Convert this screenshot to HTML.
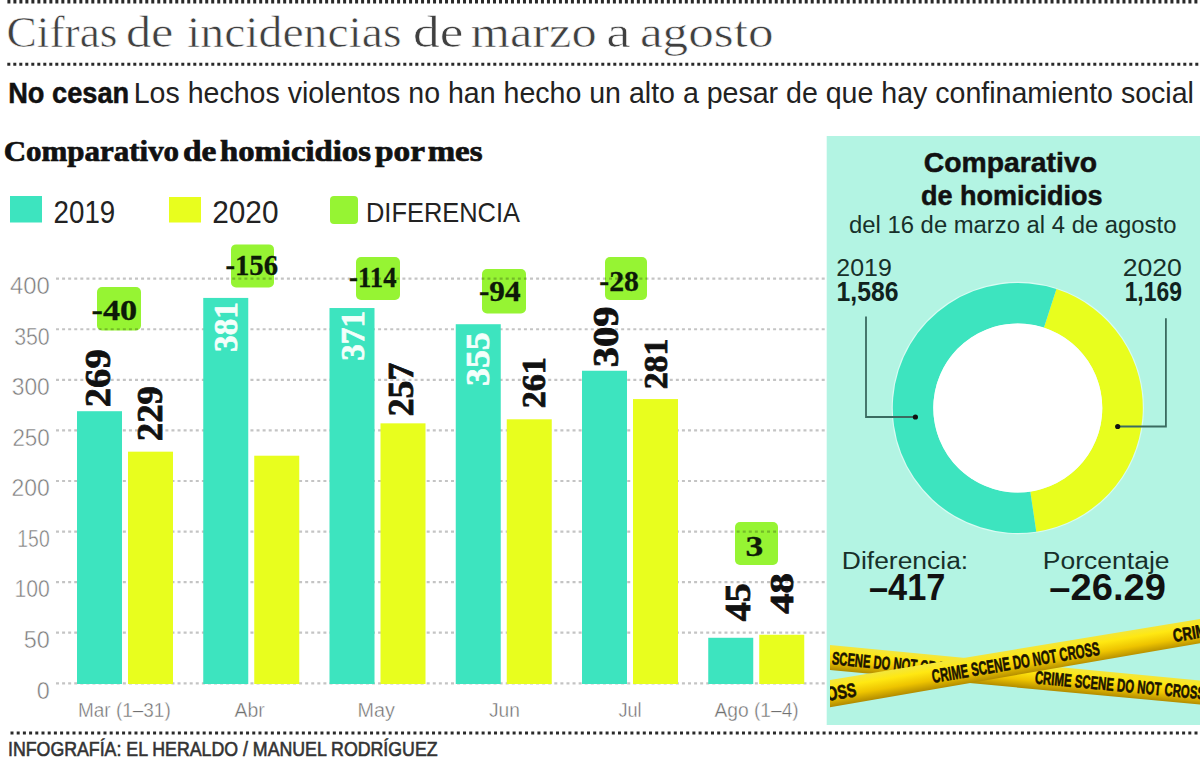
<!DOCTYPE html><html><head><meta charset="utf-8"><style>html,body{margin:0;padding:0;background:#fff;width:1200px;height:764px;overflow:hidden}svg{display:block}</style></head><body><svg width="1200" height="764" viewBox="0 0 1200 764"><defs><linearGradient id="tapeg" x1="0" y1="0" x2="0" y2="1"><stop offset="0" stop-color="#f2e640"/><stop offset="0.3" stop-color="#ffe812"/><stop offset="0.65" stop-color="#eec400"/><stop offset="1" stop-color="#b08a00"/></linearGradient><clipPath id="pclip"><rect x="830" y="136" width="370" height="589"/></clipPath></defs><rect width="1200" height="764" fill="#fff"/><line x1="7.4" y1="1.8" x2="1200" y2="1.8" stroke="#2a2a2a" stroke-width="3.6" stroke-dasharray="3 2.995" stroke-dashoffset="0"/>
<line x1="7.3" y1="64.2" x2="1200" y2="64.2" stroke="#2a2a2a" stroke-width="3" stroke-dasharray="3 3" stroke-dashoffset="0"/>
<text x="6.58" y="47.00" font-family="Liberation Serif" font-weight="normal" font-size="44.26" fill="#404040" textLength="110.96" lengthAdjust="spacingAndGlyphs" stroke="#fff" stroke-width="0.6">Cifras</text>
<text x="125.94" y="47.00" font-family="Liberation Serif" font-weight="normal" font-size="44.26" fill="#404040" textLength="47.46" lengthAdjust="spacingAndGlyphs" stroke="#fff" stroke-width="0.6">de</text>
<text x="187.05" y="47.00" font-family="Liberation Serif" font-weight="normal" font-size="44.26" fill="#404040" textLength="214.52" lengthAdjust="spacingAndGlyphs" stroke="#fff" stroke-width="0.6">incidencias</text>
<text x="413.13" y="47.00" font-family="Liberation Serif" font-weight="normal" font-size="44.26" fill="#404040" textLength="50.37" lengthAdjust="spacingAndGlyphs" stroke="#fff" stroke-width="0.6">de</text>
<text x="470.69" y="47.00" font-family="Liberation Serif" font-weight="normal" font-size="44.26" fill="#404040" textLength="126.00" lengthAdjust="spacingAndGlyphs" stroke="#fff" stroke-width="0.6">marzo</text>
<text x="606.38" y="47.00" font-family="Liberation Serif" font-weight="normal" font-size="44.26" fill="#404040" textLength="24.38" lengthAdjust="spacingAndGlyphs" stroke="#fff" stroke-width="0.6">a</text>
<text x="639.91" y="47.00" font-family="Liberation Serif" font-weight="normal" font-size="44.26" fill="#404040" textLength="133.62" lengthAdjust="spacingAndGlyphs" stroke="#fff" stroke-width="0.6">agosto</text>
<text x="8.23" y="103.00" font-family="Liberation Sans" font-weight="bold" font-size="29.71" fill="#111" textLength="120.94" lengthAdjust="spacingAndGlyphs" stroke="#111" stroke-width="0.5">No cesan</text>
<text x="133.72" y="103.30" font-family="Liberation Sans" font-weight="normal" font-size="29.79" fill="#222" textLength="1060.21" lengthAdjust="spacingAndGlyphs" >Los hechos violentos no han hecho un alto a pesar de que hay confinamiento social</text>
<text x="3.65" y="161.00" font-family="Liberation Serif" font-weight="bold" font-size="29.00" fill="#111" textLength="175.47" lengthAdjust="spacingAndGlyphs" stroke="#111" stroke-width="0.7">Comparativo</text>
<text x="183.07" y="161.00" font-family="Liberation Serif" font-weight="bold" font-size="29.00" fill="#111" textLength="33.37" lengthAdjust="spacingAndGlyphs" stroke="#111" stroke-width="0.7">de</text>
<text x="219.98" y="161.00" font-family="Liberation Serif" font-weight="bold" font-size="29.00" fill="#111" textLength="150.93" lengthAdjust="spacingAndGlyphs" stroke="#111" stroke-width="0.7">homicidios</text>
<text x="375.07" y="161.00" font-family="Liberation Serif" font-weight="bold" font-size="29.00" fill="#111" textLength="50.00" lengthAdjust="spacingAndGlyphs" stroke="#111" stroke-width="0.7">por</text>
<text x="427.68" y="161.00" font-family="Liberation Serif" font-weight="bold" font-size="29.00" fill="#111" textLength="54.88" lengthAdjust="spacingAndGlyphs" stroke="#111" stroke-width="0.7">mes</text>
<rect x="10" y="196" width="32" height="26.5" fill="#3de4bf"/>
<rect x="169" y="197" width="32" height="25.5" fill="#e8fe1e"/>
<rect x="330" y="196" width="28" height="28" rx="4" fill="#96f433"/>
<text x="53.62" y="222.50" font-family="Liberation Sans" font-weight="normal" font-size="30.71" fill="#222" textLength="61.62" lengthAdjust="spacingAndGlyphs" >2019</text>
<text x="212.21" y="222.50" font-family="Liberation Sans" font-weight="normal" font-size="30.71" fill="#222" textLength="66.32" lengthAdjust="spacingAndGlyphs" >2020</text>
<text x="365.96" y="222.00" font-family="Liberation Sans" font-weight="normal" font-size="27.86" fill="#222" textLength="154.07" lengthAdjust="spacingAndGlyphs" >DIFERENCIA</text>
<rect x="826.7" y="136" width="373.3" height="589" fill="#b3f4e3"/>
<rect x="97" y="287" width="44" height="43.5" rx="5" fill="#96f433"/>
<rect x="231" y="244.4" width="43" height="43.099999999999994" rx="5" fill="#96f433"/>
<rect x="356" y="257" width="44" height="43" rx="5" fill="#96f433"/>
<rect x="482" y="269" width="44" height="44.5" rx="5" fill="#96f433"/>
<rect x="605" y="257" width="42" height="43" rx="5" fill="#96f433"/>
<rect x="735" y="522" width="43" height="43" rx="5" fill="#96f433"/>
<line x1="56" y1="683.30" x2="826" y2="683.30" stroke="#000" stroke-opacity="0.23" stroke-width="2.2" stroke-dasharray="3 3.077"/>
<line x1="56" y1="632.72" x2="826" y2="632.72" stroke="#000" stroke-opacity="0.23" stroke-width="2.2" stroke-dasharray="3 3.077"/>
<line x1="56" y1="582.15" x2="826" y2="582.15" stroke="#000" stroke-opacity="0.23" stroke-width="2.2" stroke-dasharray="3 3.077"/>
<line x1="56" y1="531.57" x2="826" y2="531.57" stroke="#000" stroke-opacity="0.23" stroke-width="2.2" stroke-dasharray="3 3.077"/>
<line x1="56" y1="481.00" x2="826" y2="481.00" stroke="#000" stroke-opacity="0.23" stroke-width="2.2" stroke-dasharray="3 3.077"/>
<line x1="56" y1="430.42" x2="826" y2="430.42" stroke="#000" stroke-opacity="0.23" stroke-width="2.2" stroke-dasharray="3 3.077"/>
<line x1="56" y1="379.85" x2="826" y2="379.85" stroke="#000" stroke-opacity="0.23" stroke-width="2.2" stroke-dasharray="3 3.077"/>
<line x1="56" y1="329.27" x2="826" y2="329.27" stroke="#000" stroke-opacity="0.23" stroke-width="2.2" stroke-dasharray="3 3.077"/>
<line x1="56" y1="278.70" x2="826" y2="278.70" stroke="#000" stroke-opacity="0.23" stroke-width="2.2" stroke-dasharray="3 3.077"/>
<text x="36.77" y="698.60" font-family="Liberation Sans" font-weight="normal" font-size="24.71" fill="#7c7c7c" textLength="12.98" lengthAdjust="spacingAndGlyphs" stroke="#fff" stroke-width="0.5">0</text>
<text x="23.76" y="648.02" font-family="Liberation Sans" font-weight="normal" font-size="24.71" fill="#7c7c7c" textLength="26.01" lengthAdjust="spacingAndGlyphs" stroke="#fff" stroke-width="0.5">50</text>
<text x="14.41" y="597.45" font-family="Liberation Sans" font-weight="normal" font-size="24.71" fill="#7c7c7c" textLength="35.30" lengthAdjust="spacingAndGlyphs" stroke="#fff" stroke-width="0.5">100</text>
<text x="17.35" y="546.87" font-family="Liberation Sans" font-weight="normal" font-size="24.71" fill="#7c7c7c" textLength="32.30" lengthAdjust="spacingAndGlyphs" stroke="#fff" stroke-width="0.5">150</text>
<text x="11.55" y="496.30" font-family="Liberation Sans" font-weight="normal" font-size="24.71" fill="#7c7c7c" textLength="38.23" lengthAdjust="spacingAndGlyphs" stroke="#fff" stroke-width="0.5">200</text>
<text x="12.38" y="445.72" font-family="Liberation Sans" font-weight="normal" font-size="24.71" fill="#7c7c7c" textLength="37.38" lengthAdjust="spacingAndGlyphs" stroke="#fff" stroke-width="0.5">250</text>
<text x="11.79" y="395.15" font-family="Liberation Sans" font-weight="normal" font-size="24.71" fill="#7c7c7c" textLength="37.99" lengthAdjust="spacingAndGlyphs" stroke="#fff" stroke-width="0.5">300</text>
<text x="14.15" y="344.57" font-family="Liberation Sans" font-weight="normal" font-size="24.71" fill="#7c7c7c" textLength="35.57" lengthAdjust="spacingAndGlyphs" stroke="#fff" stroke-width="0.5">350</text>
<text x="10.02" y="294.00" font-family="Liberation Sans" font-weight="normal" font-size="24.71" fill="#7c7c7c" textLength="39.80" lengthAdjust="spacingAndGlyphs" stroke="#fff" stroke-width="0.5">400</text>
<rect x="77.00" y="411.21" width="45" height="272.79" fill="#3de4bf"/>
<rect x="128.00" y="451.67" width="45" height="232.33" fill="#e8fe1e"/>
<rect x="203.25" y="297.92" width="45" height="386.08" fill="#3de4bf"/>
<rect x="254.25" y="455.71" width="45" height="228.29" fill="#e8fe1e"/>
<rect x="329.50" y="308.03" width="45" height="375.97" fill="#3de4bf"/>
<rect x="380.50" y="423.34" width="45" height="260.66" fill="#e8fe1e"/>
<rect x="455.75" y="324.22" width="45" height="359.78" fill="#3de4bf"/>
<rect x="506.75" y="419.30" width="45" height="264.70" fill="#e8fe1e"/>
<rect x="582.00" y="370.75" width="45" height="313.25" fill="#3de4bf"/>
<rect x="633.00" y="399.07" width="45" height="284.93" fill="#e8fe1e"/>
<rect x="708.25" y="637.78" width="45" height="46.22" fill="#3de4bf"/>
<rect x="759.25" y="634.75" width="45" height="49.25" fill="#e8fe1e"/>
<text transform="translate(109.70,407.14) rotate(-90)" x="0" y="0" font-family="Liberation Serif" font-weight="bold" font-size="35.91" fill="#111" textLength="57.79" lengthAdjust="spacingAndGlyphs" stroke="#111" stroke-width="0.8">269</text>
<text transform="translate(162.00,441.17) rotate(-90)" x="0" y="0" font-family="Liberation Serif" font-weight="bold" font-size="35.61" fill="#111" textLength="55.16" lengthAdjust="spacingAndGlyphs" stroke="#111" stroke-width="0.8">229</text>
<text transform="translate(237.00,351.96) rotate(-90)" x="0" y="0" font-family="Liberation Serif" font-weight="bold" font-size="33.08" fill="#f4fffb" textLength="49.82" lengthAdjust="spacingAndGlyphs" stroke="#f4fffb" stroke-width="0.7">381</text>
<text transform="translate(364.20,360.87) rotate(-90)" x="0" y="0" font-family="Liberation Serif" font-weight="bold" font-size="34.24" fill="#f4fffb" textLength="49.93" lengthAdjust="spacingAndGlyphs" stroke="#f4fffb" stroke-width="0.7">371</text>
<text transform="translate(413.30,416.22) rotate(-90)" x="0" y="0" font-family="Liberation Serif" font-weight="bold" font-size="35.76" fill="#111" textLength="53.41" lengthAdjust="spacingAndGlyphs" stroke="#111" stroke-width="0.8">257</text>
<text transform="translate(489.40,385.95) rotate(-90)" x="0" y="0" font-family="Liberation Serif" font-weight="bold" font-size="34.39" fill="#f4fffb" textLength="53.71" lengthAdjust="spacingAndGlyphs" stroke="#f4fffb" stroke-width="0.7">355</text>
<text transform="translate(544.70,408.36) rotate(-90)" x="0" y="0" font-family="Liberation Serif" font-weight="bold" font-size="34.39" fill="#111" textLength="51.06" lengthAdjust="spacingAndGlyphs" stroke="#111" stroke-width="0.8">261</text>
<text transform="translate(618.00,367.21) rotate(-90)" x="0" y="0" font-family="Liberation Serif" font-weight="bold" font-size="34.89" fill="#111" textLength="60.63" lengthAdjust="spacingAndGlyphs" stroke="#111" stroke-width="0.8">309</text>
<text transform="translate(667.00,389.36) rotate(-90)" x="0" y="0" font-family="Liberation Serif" font-weight="bold" font-size="33.83" fill="#111" textLength="50.85" lengthAdjust="spacingAndGlyphs" stroke="#111" stroke-width="0.8">281</text>
<text transform="translate(749.70,621.27) rotate(-90)" x="0" y="0" font-family="Liberation Serif" font-weight="bold" font-size="35.91" fill="#111" textLength="38.00" lengthAdjust="spacingAndGlyphs" stroke="#111" stroke-width="0.8">45</text>
<text transform="translate(793.20,613.81) rotate(-90)" x="0" y="0" font-family="Liberation Serif" font-weight="bold" font-size="33.68" fill="#111" textLength="40.53" lengthAdjust="spacingAndGlyphs" stroke="#111" stroke-width="0.8">48</text>
<text x="91.50" y="319.50" font-family="Liberation Serif" font-weight="bold" font-size="29.32" fill="#0d1a08" textLength="45.63" lengthAdjust="spacingAndGlyphs" stroke="#0d1a08" stroke-width="0.3">-40</text>
<text x="225.40" y="275.00" font-family="Liberation Serif" font-weight="bold" font-size="28.79" fill="#0d1a08" textLength="52.61" lengthAdjust="spacingAndGlyphs" stroke="#0d1a08" stroke-width="0.3">-156</text>
<text x="349.07" y="286.50" font-family="Liberation Serif" font-weight="bold" font-size="28.94" fill="#0d1a08" textLength="47.41" lengthAdjust="spacingAndGlyphs" stroke="#0d1a08" stroke-width="0.3">-114</text>
<text x="478.91" y="301.20" font-family="Liberation Serif" font-weight="bold" font-size="28.64" fill="#0d1a08" textLength="41.66" lengthAdjust="spacingAndGlyphs" stroke="#0d1a08" stroke-width="0.3">-94</text>
<text x="599.36" y="291.00" font-family="Liberation Serif" font-weight="bold" font-size="30.08" fill="#0d1a08" textLength="39.62" lengthAdjust="spacingAndGlyphs" stroke="#0d1a08" stroke-width="0.3">-28</text>
<text x="745.45" y="555.50" font-family="Liberation Serif" font-weight="bold" font-size="29.55" fill="#0d1a08" textLength="17.79" lengthAdjust="spacingAndGlyphs" stroke="#0d1a08" stroke-width="0.3">3</text>
<text x="77.98" y="716.80" font-family="Liberation Sans" font-weight="normal" font-size="20.00" fill="#707070" textLength="92.77" lengthAdjust="spacingAndGlyphs" stroke="#fff" stroke-width="0.4">Mar (1–31)</text>
<text x="234.60" y="716.80" font-family="Liberation Sans" font-weight="normal" font-size="20.00" fill="#707070" textLength="30.22" lengthAdjust="spacingAndGlyphs" stroke="#fff" stroke-width="0.4">Abr</text>
<text x="357.42" y="716.80" font-family="Liberation Sans" font-weight="normal" font-size="20.00" fill="#707070" textLength="37.37" lengthAdjust="spacingAndGlyphs" stroke="#fff" stroke-width="0.4">May</text>
<text x="489.01" y="716.80" font-family="Liberation Sans" font-weight="normal" font-size="20.00" fill="#707070" textLength="30.88" lengthAdjust="spacingAndGlyphs" stroke="#fff" stroke-width="0.4">Jun</text>
<text x="618.53" y="716.80" font-family="Liberation Sans" font-weight="normal" font-size="20.00" fill="#707070" textLength="23.11" lengthAdjust="spacingAndGlyphs" stroke="#fff" stroke-width="0.4">Jul</text>
<text x="714.40" y="716.80" font-family="Liberation Sans" font-weight="normal" font-size="20.00" fill="#707070" textLength="84.39" lengthAdjust="spacingAndGlyphs" stroke="#fff" stroke-width="0.4">Ago (1–4)</text>
<line x1="10.5" y1="733" x2="1200" y2="733" stroke="#2a2a2a" stroke-width="3.2" stroke-dasharray="3 3.199" stroke-dashoffset="0"/>
<text x="8.00" y="756.00" font-family="Liberation Sans" font-weight="normal" font-size="19.80" fill="#333" textLength="429.57" lengthAdjust="spacingAndGlyphs" stroke="#333" stroke-width="0.6">INFOGRAFÍA: EL HERALDO / MANUEL RODRÍGUEZ</text>
<text x="923.87" y="172.20" font-family="Liberation Sans" font-weight="bold" font-size="28.00" fill="#111" textLength="173.13" lengthAdjust="spacingAndGlyphs" stroke="#111" stroke-width="0.5">Comparativo</text>
<text x="920.92" y="205.20" font-family="Liberation Sans" font-weight="bold" font-size="28.00" fill="#111" textLength="181.55" lengthAdjust="spacingAndGlyphs" stroke="#111" stroke-width="0.5">de homicidios</text>
<text x="849.05" y="232.50" font-family="Liberation Sans" font-weight="normal" font-size="23.45" fill="#17302a" textLength="327.35" lengthAdjust="spacingAndGlyphs" >del 16 de marzo al 4 de agosto</text>
<text x="836.35" y="275.60" font-family="Liberation Sans" font-weight="normal" font-size="24.57" fill="#17302a" textLength="55.46" lengthAdjust="spacingAndGlyphs" >2019</text>
<text x="836.52" y="301.30" font-family="Liberation Sans" font-weight="bold" font-size="26.86" fill="#10231e" textLength="61.91" lengthAdjust="spacingAndGlyphs" >1,586</text>
<text x="1122.67" y="275.60" font-family="Liberation Sans" font-weight="normal" font-size="24.57" fill="#17302a" textLength="59.26" lengthAdjust="spacingAndGlyphs" >2020</text>
<text x="1124.63" y="301.30" font-family="Liberation Sans" font-weight="bold" font-size="26.86" fill="#10231e" textLength="57.23" lengthAdjust="spacingAndGlyphs" >1,169</text>
<text x="841.89" y="568.50" font-family="Liberation Sans" font-weight="normal" font-size="23.31" fill="#17302a" textLength="126.32" lengthAdjust="spacingAndGlyphs" >Diferencia:</text>
<text x="868.97" y="599.50" font-family="Liberation Sans" font-weight="bold" font-size="37.00" fill="#111" textLength="76.39" lengthAdjust="spacingAndGlyphs" >–417</text>
<text x="1042.88" y="568.50" font-family="Liberation Sans" font-weight="normal" font-size="23.31" fill="#17302a" textLength="126.64" lengthAdjust="spacingAndGlyphs" >Porcentaje</text>
<text x="1049.36" y="599.50" font-family="Liberation Sans" font-weight="bold" font-size="37.00" fill="#111" textLength="116.53" lengthAdjust="spacingAndGlyphs" >–26.29</text>
<circle cx="1017.8" cy="408" r="126.2" fill="#d8fbf2"/>
<path d="M1056.43,289.12 A125,125 0 0 1 1036.28,531.63 L1030.29,491.57 A84.5,84.5 0 0 0 1043.91,327.64 Z" fill="#e8fe1e"/>
<path d="M1036.28,531.63 A125,125 0 1 1 1056.43,289.12 L1043.91,327.64 A84.5,84.5 0 1 0 1030.29,491.57 Z" fill="#3de4bf"/>
<circle cx="1017.8" cy="408" r="84.5" fill="#ffffff"/>
<polyline points="866,316.4 866,417 915.4,417" fill="none" stroke="#3a6b60" stroke-width="1.8"/>
<circle cx="915.4" cy="417" r="2.6" fill="#111"/>
<polyline points="1165.9,318.3 1165.9,426.5 1117.7,426.5" fill="none" stroke="#3a6b60" stroke-width="1.8"/>
<circle cx="1117.7" cy="426.5" r="2.6" fill="#111"/>
<g clip-path="url(#pclip)">
<g transform="translate(829,657.50) rotate(5.389)"><polygon points="-20,-12.44 392.65,-11.95 392.65,11.95 -20,12.44" fill="url(#tapeg)"/><text x="3.01" y="6.50" font-family="Liberation Sans" font-weight="bold" font-size="18.16" fill="#1b1400" stroke="#1b1400" stroke-width="0.6" textLength="128.57" lengthAdjust="spacingAndGlyphs">SCENE DO NOT CROSS</text><text x="206.91" y="6.50" font-family="Liberation Sans" font-weight="bold" font-size="18.16" fill="#1b1400" stroke="#1b1400" stroke-width="0.6" textLength="170.75" lengthAdjust="spacingAndGlyphs">CRIME SCENE DO NOT CROSS</text></g>
<g transform="translate(829,693.70) rotate(-9.577)"><polygon points="-20,-13.51 396.24,-11.93 396.24,11.93 -20,13.51" fill="url(#tapeg)"/><text x="-23.33" y="7.00" font-family="Liberation Sans" font-weight="bold" font-size="19.55" fill="#1b1400" stroke="#1b1400" stroke-width="0.6" textLength="50.71" lengthAdjust="spacingAndGlyphs">CROSS</text><text x="104.46" y="6.75" font-family="Liberation Sans" font-weight="bold" font-size="18.85" fill="#1b1400" stroke="#1b1400" stroke-width="0.6" textLength="169.66" lengthAdjust="spacingAndGlyphs">CRIME SCENE DO NOT CROSS</text><text x="348.86" y="6.50" font-family="Liberation Sans" font-weight="bold" font-size="18.16" fill="#1b1400" stroke="#1b1400" stroke-width="0.6" textLength="42.59" lengthAdjust="spacingAndGlyphs">CRIME</text></g>
</g></svg></body></html>
